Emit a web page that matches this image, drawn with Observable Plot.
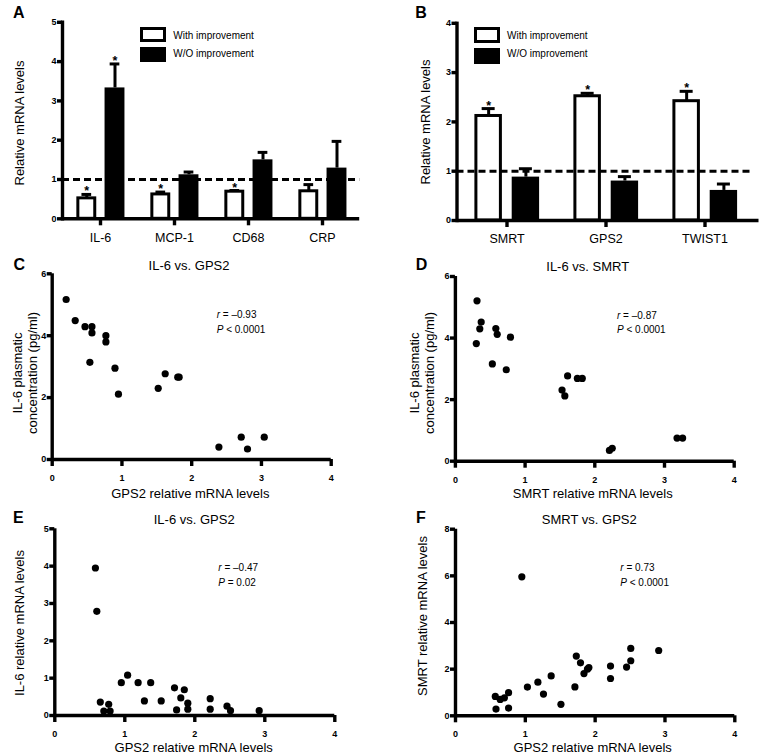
<!DOCTYPE html>
<html><head><meta charset="utf-8">
<script src="https://cdn.jsdelivr.net/npm/d3@7"></script>
<script src="https://cdn.jsdelivr.net/npm/@observablehq/plot@0.6"></script>
<style>
html,body{margin:0;padding:0;background:#fff;}
#fig{position:relative;width:762px;height:756px;overflow:hidden;font-family:"Liberation Sans",Arial,Helvetica,sans-serif;color:#000;}
#fig svg{position:absolute;overflow:visible;}
.t{position:absolute;white-space:nowrap;color:#000;text-align:center;}
.sw{position:absolute;box-sizing:border-box;border:3px solid #000;}
</style></head><body><div id="fig"></div>
<script>
// ---------- data ----------
const catsA = ["IL-6", "MCP-1", "CD68", "CRP"];
const withA = [0.52, 0.62, 0.69, 0.70];
const withUpA = [0.62, 0.68, 0.72, 0.87];
const woA = [3.33, 1.12, 1.50, 1.29];
const woUpA = [3.94, 1.19, 1.69, 1.97];
const sigWithA = [true, true, true, false];
const sigWoA = [true, false, false, false];
const yTicksA = [0, 1, 2, 3, 4, 5];

const catsB = ["SMRT", "GPS2", "TWIST1"];
const withB = [2.12, 2.52, 2.42];
const withUpB = [2.27, 2.58, 2.62];
const woB = [0.88, 0.80, 0.61];
const woUpB = [1.05, 0.89, 0.74];
const sigWithB = [true, true, true];
const sigWoB = [false, false, false];
const yTicksB = [0, 1, 2, 3, 4];

const gpsC = [0.20,0.33,0.47,0.57,0.57,0.77,0.77,0.54,0.90,0.95,1.52,1.62,1.80,1.82,2.39,2.71,2.80,3.04];
const il6C = [5.17,4.49,4.29,4.29,4.09,4.00,3.80,3.14,2.95,2.11,2.30,2.77,2.66,2.66,0.40,0.72,0.34,0.72];

const smrtD = [0.31,0.37,0.35,0.30,0.58,0.60,0.79,0.53,0.73,1.61,1.75,1.82,1.53,1.57,2.21,2.25,3.18,3.26];
const il6D = [5.21,4.52,4.30,3.82,4.31,4.12,4.03,3.16,2.97,2.77,2.69,2.69,2.31,2.12,0.35,0.42,0.75,0.75];

const gpsE = [0.58,0.60,0.65,0.77,0.70,0.79,0.95,1.04,1.19,1.37,1.28,1.52,1.71,1.85,1.80,1.74,1.90,1.90,2.22,2.22,2.46,2.51,2.92];
const il6E = [3.95,2.79,0.36,0.30,0.12,0.12,0.88,1.08,0.88,0.88,0.39,0.39,0.74,0.69,0.47,0.15,0.33,0.17,0.45,0.17,0.25,0.13,0.13];

const gpsF = [0.95,0.57,0.64,0.70,0.76,0.58,0.76,1.03,1.18,1.26,1.37,1.51,1.71,1.73,1.79,1.84,1.89,1.91,2.22,2.22,2.45,2.51,2.51,2.91];
const smrtF = [5.96,0.83,0.70,0.77,0.99,0.29,0.33,1.23,1.44,0.93,1.71,0.49,1.24,2.56,2.27,1.81,2.00,2.07,2.13,1.60,2.09,2.36,2.89,2.80];

const xTicksScatter = [0, 1, 2, 3, 4];
const yTicksC = [0, 2, 4, 6];
const yTicksE = [0, 1, 2, 3, 4, 5];
const yTicksF = [0, 2, 4, 6, 8];

const legendLabels = ["With improvement", "W/O improvement"];
const panelLetters = ["A", "B", "C", "D", "E", "F"];
const titles = ["IL-6 vs. GPS2", "IL-6 vs. SMRT", "IL-6 vs. GPS2", "SMRT vs. GPS2"];
const stats = [["<i>r</i> = –0.93", "<i>P</i> &lt; 0.0001"], ["<i>r</i> = –0.87", "<i>P</i> &lt; 0.0001"],
               ["<i>r</i> = –0.47", "<i>P</i> = 0.02"], ["<i>r</i> = 0.73", "<i>P</i> &lt; 0.0001"]];

// ---------- helpers ----------
const fig = document.getElementById("fig");
const FONT = '"Liberation Sans", Arial, Helvetica, sans-serif';
const SW = 3.0;   // bars, error bars, dashed line
const AW = 3.4;   // axis lines and ticks
const fmt = d => String(d);

function put(svg, left, top) {
  svg.style.left = left + "px";
  svg.style.top = top + "px";
  fig.appendChild(svg);
}
function label(html, x, y, o = {}) {
  const d = document.createElement("div");
  d.className = "t";
  d.innerHTML = html;
  const size = o.size || 13;
  d.style.left = x + "px";
  d.style.top = y + "px";
  d.style.fontSize = size + "px";
  d.style.fontWeight = o.weight || "normal";
  d.style.lineHeight = (o.lh || Math.round(size * 1.15)) + "px";
  const tx = o.anchor === "start" ? "0" : "-50%";
  d.style.transform = `translate(${tx},-50%)` + (o.rotate ? ` rotate(${o.rotate}deg)` : "");
  fig.appendChild(d);
}
function swatch(x, y, w, h, fill) {
  const d = document.createElement("div");
  d.className = "sw";
  Object.assign(d.style, {left: x + "px", top: y + "px", width: w + "px", height: h + "px", background: fill});
  fig.appendChild(d);
}

function barChart(c) {
  const step = (c.W - c.ml - c.mr) / c.cats.length, h = step / 2;
  const rw = c.cats.map((k, i) => ({cat: k, v: c.withV[i], u: c.withU[i], s: c.sigW[i]}));
  const ro = c.cats.map((k, i) => ({cat: k, v: c.woV[i], u: c.woU[i], s: c.sigO[i]}));
  const cw = (c.gW[0] + c.gW[1]) / 2, co = (c.gO[0] + c.gO[1]) / 2;
  return Plot.plot({
    width: c.W, height: c.H,
    marginLeft: c.ml, marginRight: c.mr, marginTop: c.mt, marginBottom: c.mb,
    style: {fontFamily: FONT, color: "black", background: "none", overflow: "visible"},
    x: {domain: c.cats, padding: 0},
    y: {domain: [0, c.yMax]},
    marks: [
      Plot.barY(ro, {x: "cat", y: "v", fill: "black", insetLeft: h + c.gO[0], insetRight: h - c.gO[1]}),
      Plot.ruleX(ro, {x: "cat", y1: "v", y2: "u", dx: co, stroke: "black", strokeWidth: SW}),
      Plot.tickY(ro, {x: "cat", y: "u", insetLeft: h + co - c.cap, insetRight: h - co - c.cap, stroke: "black", strokeWidth: SW}),
      Plot.ruleX(rw, {x: "cat", y1: "v", y2: "u", dx: cw, stroke: "black", strokeWidth: SW}),
      Plot.tickY(rw, {x: "cat", y: "u", insetLeft: h + cw - c.cap, insetRight: h - cw - c.cap, stroke: "black", strokeWidth: SW}),
      Plot.barY(rw, {x: "cat", y: "v", fill: "white", stroke: "black", strokeWidth: SW,
                     insetLeft: h + c.gW[0], insetRight: h - c.gW[1]}),
      Plot.text(rw.filter(d => d.s), {x: "cat", y: "u", text: () => "*", dx: cw, dy: -3, fontSize: 12.5, fontWeight: "bold"}),
      Plot.text(ro.filter(d => d.s), {x: "cat", y: "u", text: () => "*", dx: co, dy: -3, fontSize: 12.5, fontWeight: "bold"}),
      Plot.ruleY([1], {stroke: "black", strokeWidth: SW, strokeDasharray: "7,4"}),
      Plot.ruleY([0], {stroke: "black", strokeWidth: AW, insetRight: -c.extend}),
      Plot.frame({anchor: "left", stroke: "black", strokeWidth: AW}),
      Plot.axisY({ticks: c.yTicks, tickFormat: fmt, tickSize: 5, tickPadding: 1, fontSize: 9, fontWeight: "bold",
                  stroke: "black", strokeWidth: AW, label: null}),
      Plot.axisX({tickSize: 7, tickPadding: 7, fontSize: 12.5, stroke: "black", strokeWidth: AW, label: null})
    ]
  });
}

function scatter(c) {
  const idx = c.xs.map((_, i) => i);
  return Plot.plot({
    width: c.W, height: c.H,
    marginLeft: c.ml, marginRight: c.mr, marginTop: c.mt, marginBottom: c.mb,
    style: {fontFamily: FONT, color: "black", background: "none", overflow: "visible"},
    x: {domain: [0, 4]},
    y: {domain: [0, c.yMax]},
    marks: [
      Plot.ruleY([0], {stroke: "black", strokeWidth: AW}),
      Plot.ruleX([0], {stroke: "black", strokeWidth: AW}),
      Plot.axisX({ticks: xTicksScatter, tickFormat: fmt, tickSize: 7, tickPadding: 8, fontSize: 9, fontWeight: "bold",
                  stroke: "black", strokeWidth: AW, label: null}),
      Plot.axisY({ticks: c.yTicks, tickFormat: fmt, tickSize: 5, tickPadding: 1, fontSize: 9, fontWeight: "bold",
                  stroke: "black", strokeWidth: AW, label: null}),
      Plot.dot(idx, {x: i => c.xs[i], y: i => c.ys[i], r: 3.6, fill: "black"})
    ]
  });
}

// ---------- panel A ----------
put(barChart({cats: catsA, withV: withA, withU: withUpA, woV: woA, woU: woUpA, sigW: sigWithA, sigO: sigWoA,
  yMax: 5, yTicks: yTicksA, W: 381, H: 250, ml: 62, mr: 21.8, mt: 21.8, mb: 31.7,
  gW: [-22.3, -5.1], gO: [4.4, 24.6], cap: 5, extend: 0}), 0, 0);
// ---------- panel B ----------
put(barChart({cats: catsB, withV: withB, withU: withUpB, woV: woB, woU: woUpB, sigW: sigWithB, sigO: sigWoB,
  yMax: 4, yTicks: yTicksB, W: 381, H: 250, ml: 75.5, mr: 8.5, mt: 22.8, mb: 30,
  gW: [-30.6, -6.1], gO: [5.2, 32.6], cap: 6.5, extend: 5}), 381, 0);
// ---------- panels C-F ----------
put(scatter({xs: gpsC, ys: il6C, yMax: 6, yTicks: yTicksC, W: 381, H: 250, ml: 51.7, mr: 50.3, mt: 23.3, mb: 41}), 0, 250);
put(scatter({xs: smrtD, ys: il6D, yMax: 6, yTicks: yTicksC, W: 381, H: 250, ml: 73.9, mr: 28.3, mt: 26, mb: 39.3}), 381, 250);
put(scatter({xs: gpsE, ys: il6E, yMax: 5, yTicks: yTicksE, W: 381, H: 256, ml: 54.3, mr: 46.7, mt: 28.3, mb: 41}), 0, 500);
put(scatter({xs: gpsF, ys: smrtF, yMax: 8, yTicks: yTicksF, W: 381, H: 256, ml: 74, mr: 27.7, mt: 28.7, mb: 40.7}), 381, 500);

// ---------- legends ----------
swatch(140, 26.7, 26, 15.6, "white");
swatch(140, 46.7, 26, 15.6, "black");
label(legendLabels[0], 173.3, 35.5, {size: 10, anchor: "start"});
label(legendLabels[1], 173.3, 54, {size: 10, anchor: "start"});
swatch(474.3, 27.3, 25.7, 16, "white");
swatch(474.3, 47.7, 25.7, 16.3, "black");
label(legendLabels[0], 507, 35.5, {size: 10, anchor: "start"});
label(legendLabels[1], 507, 54, {size: 10, anchor: "start"});

// ---------- panel letters ----------
const letterPos = [[18.8, 12.8], [421, 12.8], [19.2, 265], [421.5, 265.3], [18.3, 518.3], [421, 518.3]];
panelLetters.forEach((l, i) => label(l, letterPos[i][0], letterPos[i][1], {size: 16, weight: "bold"}));

// ---------- titles ----------
const titlePos = [[189, 265], [587.7, 265.7], [194.2, 519.3], [589.3, 519.3]];
titles.forEach((t, i) => label(t, titlePos[i][0], titlePos[i][1], {size: 13}));

// ---------- axis titles ----------
label("Relative mRNA levels", 19.2, 122.5, {rotate: -90});
label("Relative mRNA levels", 425.2, 121.7, {rotate: -90});
label("IL-6 plasmatic<br>concentration (pg/ml)", 25.3, 373.3, {rotate: -90, lh: 15});
label("IL-6 plasmatic<br>concentration (pg/ml)", 421.8, 372.5, {rotate: -90, lh: 15});
label("IL-6 relative mRNA levels", 19.2, 622.5, {rotate: -90});
label("SMRT relative mRNA levels", 421.8, 615.8, {rotate: -90});
label("GPS2 relative mRNA levels", 190.3, 493.3);
label("SMRT relative mRNA levels", 592.7, 492.7);
label("GPS2 relative mRNA levels", 193.7, 746.7);
label("GPS2 relative mRNA levels", 592.7, 746.7);

// ---------- stats ----------
const statPos = [[216.7, 315, 330], [617, 315.7, 330], [218.3, 568.3, 583.3], [620.3, 568.3, 583.3]];
stats.forEach((s, i) => {
  label(s[0], statPos[i][0], statPos[i][1], {size: 10, anchor: "start"});
  label(s[1], statPos[i][0], statPos[i][2], {size: 10, anchor: "start"});
});
</script></body></html>
